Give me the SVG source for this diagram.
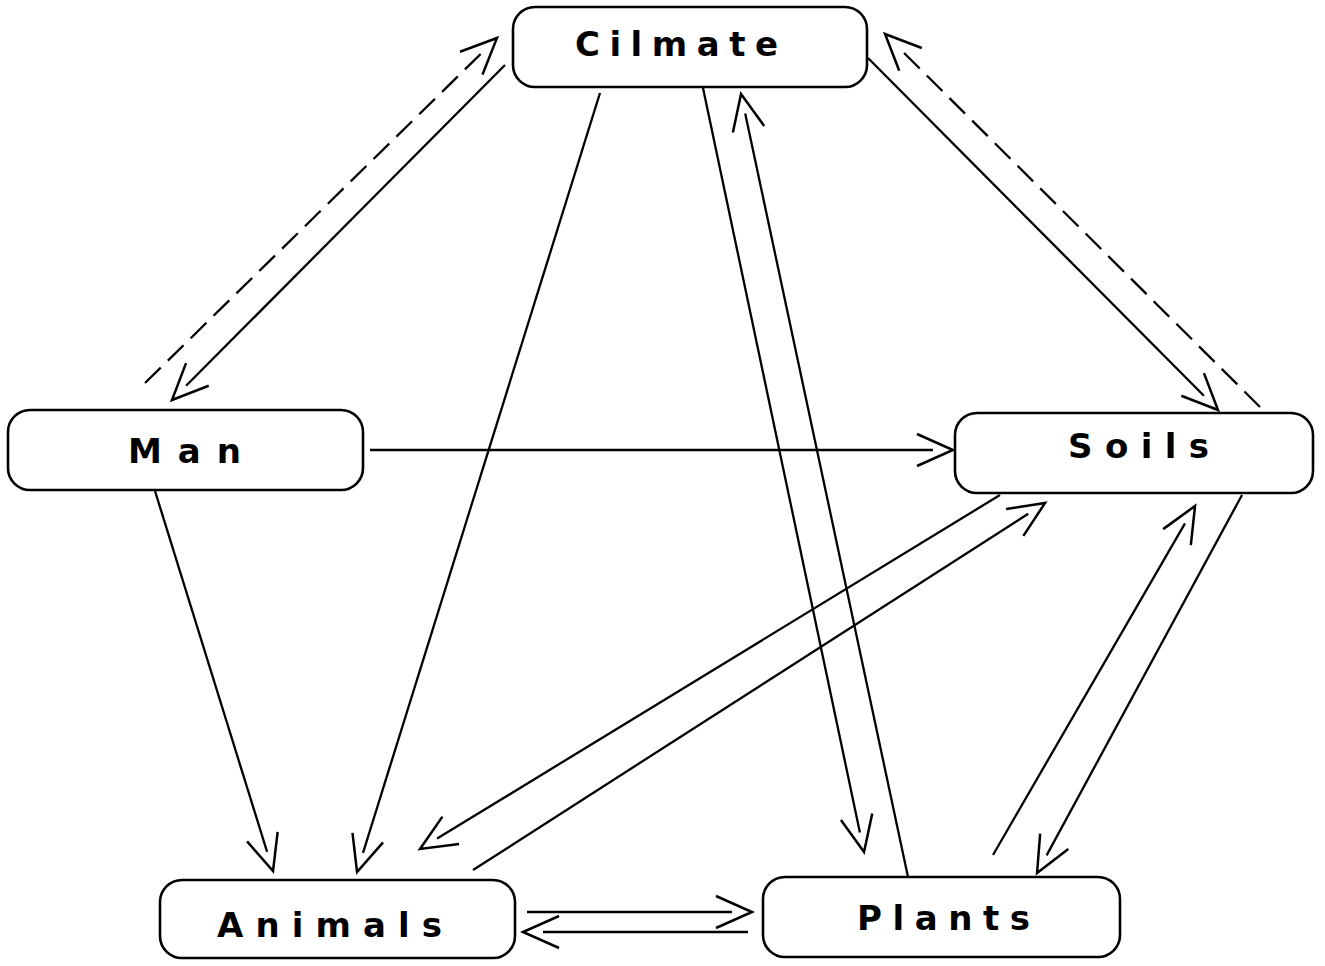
<svg xmlns="http://www.w3.org/2000/svg" width="1325" height="966" viewBox="0 0 1325 966">
<style>
.box{fill:#fff;stroke:#000;stroke-width:2.6}
.lbl{font-family:"DejaVu Sans","Liberation Sans",Arial,sans-serif;font-weight:bold;font-size:34px;fill:#000}
.c{fill:none;stroke:#000;stroke-width:2.3;marker-end:url(#arr)}
.d{stroke-dasharray:22 10}
</style>
<defs>
<marker id="arr" markerUnits="userSpaceOnUse" viewBox="-40 -20 44 40" markerWidth="44" markerHeight="40" refX="-20" refY="0" orient="auto" overflow="visible">
<path d="M-36,-16 L0,0 L-36,16" fill="none" stroke="#000" stroke-width="2.5" stroke-dasharray="none" stroke-linejoin="miter"/>
</marker>
</defs>
<rect width="1325" height="966" fill="#fff"/>
<g id="connectors">
<line class="c d" x1="145" y1="383" x2="482.7" y2="52"/>
<line class="c" x1="505" y1="65" x2="186.1" y2="385.8"/>
<line class="c" x1="600" y1="93" x2="363" y2="852.9"/>
<line class="c" x1="703" y1="88" x2="859.9" y2="832.4"/>
<line class="c" x1="908" y1="877" x2="745.2" y2="113.6"/>
<line class="c" x1="868" y1="58" x2="1203.9" y2="395.8"/>
<line class="c d" x1="1260" y1="407" x2="899.2" y2="48.1"/>
<line class="c" x1="370" y1="450" x2="933" y2="450"/>
<line class="c" x1="155" y1="491" x2="267.1" y2="851.9"/>
<line class="c" x1="1000" y1="495" x2="437.1" y2="838.6"/>
<line class="c" x1="473" y1="870" x2="1028.2" y2="513.8"/>
<line class="c" x1="1242" y1="495" x2="1046.6" y2="855.4"/>
<line class="c" x1="993" y1="855" x2="1185" y2="523.3"/>
<line class="c" x1="527" y1="912" x2="732" y2="912"/>
<line class="c" x1="748" y1="932" x2="543" y2="932"/>
</g>
<g id="climate">
<rect class="box" x="513" y="7" width="354" height="80" rx="22"/>
<text class="lbl" x="575" y="56" textLength="203" lengthAdjust="spacing">Cilmate</text>
</g>
<g id="man">
<rect class="box" x="8" y="410" width="355" height="80" rx="22"/>
<text class="lbl" x="128" y="463" textLength="113" lengthAdjust="spacing">Man</text>
</g>
<g id="soils">
<rect class="box" x="955" y="413" width="358" height="80" rx="22"/>
<text class="lbl" x="1068" y="458" textLength="141" lengthAdjust="spacing">Soils</text>
</g>
<g id="animals">
<rect class="box" x="160" y="880" width="355" height="78" rx="22"/>
<text class="lbl" x="217" y="937" textLength="225" lengthAdjust="spacing">Animals</text>
</g>
<g id="plants">
<rect class="box" x="763" y="877" width="357" height="80" rx="22"/>
<text class="lbl" x="857" y="930" textLength="173" lengthAdjust="spacing">Plants</text>
</g>
</svg>
